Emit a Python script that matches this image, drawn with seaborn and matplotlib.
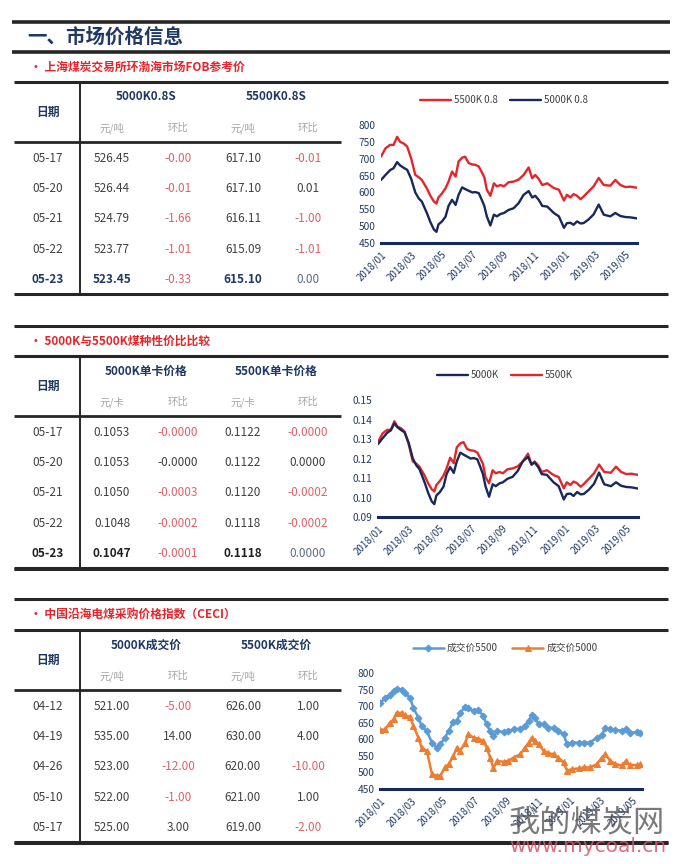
import numpy as np
import pandas as pd
import matplotlib
matplotlib.use("Agg")
import matplotlib.pyplot as plt
import matplotlib.dates as mdates
from matplotlib.lines import Line2D
import seaborn as sns

W, H = 685, 864

# ---------------- data ----------------
# 环渤海 FOB 参考价 (元/吨)
fob_dates = ["2018-01-01", "2018-01-10", "2018-01-19", "2018-01-26", "2018-02-02", "2018-02-08",
             "2018-02-15", "2018-02-22", "2018-03-02", "2018-03-10", "2018-03-17", "2018-03-23",
             "2018-04-02", "2018-04-09", "2018-04-16", "2018-04-21", "2018-04-25", "2018-05-02",
             "2018-05-09", "2018-05-15", "2018-05-22", "2018-05-29", "2018-06-04", "2018-06-11",
             "2018-06-17", "2018-06-24", "2018-07-01", "2018-07-07", "2018-07-14", "2018-07-20",
             "2018-07-25", "2018-07-30", "2018-08-06", "2018-08-13", "2018-08-19", "2018-08-26",
             "2018-09-02", "2018-09-11", "2018-09-21", "2018-10-01", "2018-10-11", "2018-10-21",
             "2018-10-28", "2018-11-03", "2018-11-10", "2018-11-17", "2018-11-27", "2018-12-10",
             "2018-12-20", "2018-12-30", "2019-01-05", "2019-01-12", "2019-01-18", "2019-01-25",
             "2019-02-01", "2019-02-07", "2019-02-17", "2019-02-27", "2019-03-09", "2019-03-19",
             "2019-04-01", "2019-04-11", "2019-04-21", "2019-05-01", "2019-05-11", "2019-05-24"]
fob_5500 = [706, 731, 741, 741, 765, 750, 745, 736, 700, 652, 645, 637, 612, 590, 573, 567, 585,
            597, 612, 632, 662, 647, 692, 703, 706, 687, 683, 682, 677, 660, 645, 608, 590, 627,
            618, 622, 618, 630, 632, 638, 652, 674, 642, 652, 640, 622, 627, 613, 608, 576, 593,
            585, 595, 590, 580, 588, 603, 618, 643, 622, 620, 637, 622, 616, 617, 614]
fob_5000 = [637, 652, 666, 672, 690, 680, 673, 667, 640, 600, 582, 573, 539, 512, 490, 483, 505,
            514, 528, 560, 578, 563, 593, 615, 610, 605, 600, 601, 598, 578, 560, 529, 502, 534,
            529, 536, 539, 548, 553, 568, 593, 604, 585, 590, 578, 560, 558, 539, 529, 495, 509,
            510, 504, 514, 508, 509, 520, 535, 564, 534, 529, 539, 530, 527, 526, 523]

# 单卡价格 (元/卡)
unit_5000 = [.1274, .1304, .1332, .1344, .1380, .1360, .1346, .1334, .1280, .1200, .1164, .1146,
             .1078, .1024, .0980, .0966, .1010, .1028, .1056, .1120, .1156, .1126, .1186, .1230,
             .1220, .1210, .1200, .1202, .1196, .1156, .1120, .1058, .1004, .1068, .1058, .1072,
             .1078, .1096, .1106, .1136, .1186, .1208, .1170, .1180, .1156, .1120, .1116, .1078,
             .1058, .0990, .1018, .1020, .1008, .1028, .1016, .1018, .1040, .1070, .1128, .1068,
             .1058, .1078, .1060, .1054, .1052, .1046]
unit_5500 = [.1284, .1329, .1347, .1347, .1391, .1364, .1355, .1338, .1273, .1185, .1173, .1158,
             .1113, .1073, .1042, .1031, .1064, .1085, .1113, .1149, .1204, .1176, .1258, .1278,
             .1284, .1249, .1242, .1240, .1231, .1200, .1173, .1105, .1073, .1140, .1124, .1131,
             .1124, .1145, .1149, .1160, .1185, .1225, .1167, .1185, .1164, .1131, .1140, .1115,
             .1105, .1047, .1078, .1064, .1082, .1073, .1055, .1069, .1096, .1124, .1169, .1131,
             .1127, .1158, .1131, .1120, .1122, .1116]

# CECI 成交价 (元/吨)
ceci_dates = ["2018-01-01", "2018-01-11", "2018-01-20", "2018-01-27", "2018-02-02", "2018-02-12",
              "2018-02-18", "2018-02-28", "2018-03-06", "2018-03-16", "2018-03-22", "2018-04-01",
              "2018-04-11", "2018-04-20", "2018-04-27", "2018-05-06", "2018-05-13", "2018-05-22",
              "2018-05-29", "2018-06-04", "2018-06-14", "2018-06-20", "2018-06-30", "2018-07-09",
              "2018-07-19", "2018-07-25", "2018-08-01", "2018-08-07", "2018-08-14", "2018-08-27",
              "2018-09-05", "2018-09-15", "2018-09-28", "2018-10-07", "2018-10-14", "2018-10-20",
              "2018-10-27", "2018-11-02", "2018-11-12", "2018-11-21", "2018-12-01", "2018-12-10",
              "2018-12-20", "2018-12-27", "2019-01-05", "2019-01-18", "2019-01-28", "2019-02-09",
              "2019-02-22", "2019-03-04", "2019-03-10", "2019-03-20", "2019-03-30", "2019-04-12",
              "2019-04-19", "2019-04-26", "2019-05-10", "2019-05-17"]
ceci_5500 = [708, 725, 735, 747, 752, 750, 740, 725, 695, 665, 640, 625, 590, 575, 585, 605, 625,
             652, 655, 680, 698, 693, 685, 688, 670, 645, 625, 610, 625, 622, 625, 630, 632, 640,
             655, 672, 665, 645, 645, 635, 635, 625, 615, 585, 590, 590, 590, 590, 605, 612, 635,
             630, 628, 626, 630, 620, 621, 619]
ceci_5000 = [628, 630, 650, 660, 680, 680, 672, 668, 640, 605, 575, 565, 495, 490, 490, 515, 525,
             550, 575, 565, 590, 615, 605, 602, 595, 575, 545, 512, 535, 532, 535, 545, 555, 575,
             590, 605, 595, 585, 565, 558, 555, 545, 530, 505, 510, 512, 515, 515, 525, 545, 555,
             535, 525, 521, 535, 523, 522, 525]

# tables
t1_dates = ["05-17", "05-20", "05-21", "05-22", "05-23"]
t1_p5000 = ["526.45", "526.44", "524.79", "523.77", "523.45"]
t1_c5000 = ["-0.00", "-0.01", "-1.66", "-1.01", "-0.33"]
t1_p5500 = ["617.10", "617.10", "616.11", "615.09", "615.10"]
t1_c5500 = ["-0.01", "0.01", "-1.00", "-1.01", "0.00"]

t2_dates = ["05-17", "05-20", "05-21", "05-22", "05-23"]
t2_p5000 = ["0.1053", "0.1053", "0.1050", "0.1048", "0.1047"]
t2_c5000 = ["-0.0000", "-0.0000", "-0.0003", "-0.0002", "-0.0001"]
t2_p5500 = ["0.1122", "0.1122", "0.1120", "0.1118", "0.1118"]
t2_c5500 = ["-0.0000", "0.0000", "-0.0002", "-0.0002", "0.0000"]

t3_dates = ["04-12", "04-19", "04-26", "05-10", "05-17"]
t3_p5000 = ["521.00", "535.00", "523.00", "522.00", "525.00"]
t3_c5000 = ["-5.00", "14.00", "-12.00", "-1.00", "3.00"]
t3_p5500 = ["626.00", "630.00", "620.00", "621.00", "619.00"]
t3_c5500 = ["1.00", "4.00", "-10.00", "1.00", "-2.00"]

# ---------------- style ----------------
sns.set_theme(style="white")
plt.rcParams["font.family"] = ["Noto Sans CJK SC", "DejaVu Sans"]
plt.rcParams["axes.unicode_minus"] = False

NAVY = "#1F3864"
DARK = "#404040"
GRAY = "#A6A6A6"
RED_TXT = "#E0606A"
TITLE_RED = "#E3262B"
LINE_RED = "#E3262B"
LINE_NAVY = "#17295A"
BLUE = "#5B9BD5"
ORANGE = "#ED7D31"
RULE = "#262626"

fig = plt.figure(figsize=(W / 100, H / 100), dpi=100)
fig.patch.set_facecolor("white")


def txt(x, y, s, **kw):
    kw.setdefault("ha", "center")
    kw.setdefault("va", "center")
    fig.text(x / W, 1 - y / H, s, **kw)


def hline(y, x0=14, x1=668, lw=2.2, color=RULE):
    fig.add_artist(Line2D([x0 / W, x1 / W], [1 - y / H] * 2, transform=fig.transFigure,
                          lw=lw, color=color, solid_capstyle="butt"))


def vline(x, y0, y1, lw=1.4, color=RULE):
    fig.add_artist(Line2D([x / W] * 2, [1 - y0 / H, 1 - y1 / H], transform=fig.transFigure,
                          lw=lw, color=color))


# main title
hline(22, 12, 670, lw=2.6)
txt(27, 37, "一、市场价格信息", ha="left", fontsize=14, fontweight="bold", color=NAVY)
hline(52, 12, 670, lw=2.6)


def section(sub_y, subtitle, top, heads, units, dates, p1, c1, p2, c2, last_style, overrides=None):
    txt(30, sub_y, "• " + subtitle, ha="left", fontsize=8.5, fontweight="bold", color=TITLE_RED)
    hline(top)
    txt(48, top + 30, "日期", fontsize=8.5, fontweight="bold", color=NAVY)
    txt(146, top + 15, heads[0], fontsize=8.5, fontweight="bold", color=NAVY)
    txt(276, top + 15, heads[1], fontsize=8.5, fontweight="bold", color=NAVY)
    for x, u in zip([112, 178, 243, 308], units):
        txt(x, top + 46, u, fontsize=7.5, color=GRAY)
    hline(top + 60, 14, 341, lw=2.0)
    vline(80, top, top + 212)
    for i in range(len(dates)):
        y = top + 76 + i * 30.4
        last = i == len(dates) - 1
        wt = "bold" if (last and last_style) else "normal"
        col = last_style if (last and last_style) else DARK
        txt(48, y, dates[i], fontsize=8.5, color=col, fontweight=wt)
        txt(112, y, p1[i], fontsize=8.5, color=col, fontweight=wt)
        txt(243, y, p2[i], fontsize=8.5, color=col, fontweight=wt)
        for x, c, k in [(178, c1[i], 0), (308, c2[i], 1)]:
            cc = RED_TXT if c.startswith("-") else DARK
            if last and last_style and not c.startswith("-"):
                cc = "#5B6B8C"
            if overrides and (i, k) in overrides:
                cc = overrides[(i, k)]
            txt(x, y, c, fontsize=8.5, color=cc)
    hline(top + 212)


section(67, "上海煤炭交易所环渤海市场FOB参考价", 82, ["5000K0.8S", "5500K0.8S"],
        ["元/吨", "环比", "元/吨", "环比"], t1_dates, t1_p5000, t1_c5000, t1_p5500, t1_c5500, NAVY)
hline(326)
section(341, "5000K与5500K煤种性价比比较", 356, ["5000K单卡价格", "5500K单卡价格"],
        ["元/卡", "环比", "元/卡", "环比"], t2_dates, t2_p5000, t2_c5000, t2_p5500, t2_c5500,
        "#202020", overrides={(1, 0): DARK})
hline(599)
section(614, "中国沿海电煤采购价格指数（CECI）", 630, ["5000K成交价", "5500K成交价"],
        ["元/吨", "环比", "元/吨", "环比"], t3_dates, t3_p5000, t3_c5000, t3_p5500, t3_c5500, None)


# ---------------- charts ----------------
def make_ax(x0, x1, ytop, ybot):
    ax = fig.add_axes([x0 / W, 1 - ybot / H, (x1 - x0) / W, (ybot - ytop) / H])
    ax.set_facecolor("none")
    for s in ["top", "right", "left"]:
        ax.spines[s].set_visible(False)
    ax.spines["bottom"].set_color(LINE_NAVY)
    ax.spines["bottom"].set_linewidth(2.2)
    ax.tick_params(axis="y", length=0, labelsize=7.3, colors=NAVY, pad=4)
    ax.tick_params(axis="x", length=5, width=1.2, color=LINE_NAVY, labelsize=7,
                   labelcolor=NAVY, direction="inout", pad=2)
    ax.xaxis.set_major_locator(mdates.MonthLocator(bymonth=[1, 3, 5, 7, 9, 11]))
    ax.xaxis.set_major_formatter(mdates.DateFormatter("%Y/%m"))
    ax.grid(False)
    return ax


def fix_ticks(ax):
    for lab in ax.get_xticklabels():
        lab.set_rotation(45)
        lab.set_ha("right")
        lab.set_rotation_mode("anchor")
    ax.set_xlabel("")
    ax.set_ylabel("")


# chart 1
df1 = pd.DataFrame({"date": pd.to_datetime(fob_dates), "5500K 0.8": fob_5500, "5000K 0.8": fob_5000})
ax1 = make_ax(381, 637, 125, 243)
sns.lineplot(data=df1, x="date", y="5500K 0.8", ax=ax1, color=LINE_RED, lw=1.7, label="5500K 0.8")
sns.lineplot(data=df1, x="date", y="5000K 0.8", ax=ax1, color=LINE_NAVY, lw=1.7, label="5000K 0.8")
ax1.set_ylim(450, 800)
ax1.set_yticks(np.arange(450, 801, 50))
ax1.set_xlim(df1["date"].iloc[0], df1["date"].iloc[-1])
fix_ticks(ax1)
ax1.legend(loc="center", bbox_to_anchor=(504 / W, 1 - 100 / H), bbox_transform=fig.transFigure,
           ncol=2, frameon=False, fontsize=7, handlelength=3.2, columnspacing=1.2,
           labelcolor=DARK, handletextpad=0.3)

# chart 2
df2 = pd.DataFrame({"date": pd.to_datetime(fob_dates), "5000K": unit_5000, "5500K": unit_5500})
ax2 = make_ax(378, 638, 400, 517)
sns.lineplot(data=df2, x="date", y="5500K", ax=ax2, color=LINE_RED, lw=1.7, label="5500K")
sns.lineplot(data=df2, x="date", y="5000K", ax=ax2, color=LINE_NAVY, lw=1.7, label="5000K")
ax2.set_ylim(0.09, 0.15)
ax2.set_yticks(np.arange(0.09, 0.1501, 0.01))
ax2.yaxis.set_major_formatter(matplotlib.ticker.FormatStrFormatter("%.2f"))
ax2.set_xlim(df2["date"].iloc[0], df2["date"].iloc[-1])
fix_ticks(ax2)
h, l = ax2.get_legend_handles_labels()
ax2.legend(h[::-1], l[::-1], loc="center", bbox_to_anchor=(505 / W, 1 - 375 / H),
           bbox_transform=fig.transFigure, ncol=2, frameon=False, fontsize=7, handlelength=3.2,
           columnspacing=1.2, labelcolor=DARK, handletextpad=0.3)

# chart 3
df3 = pd.DataFrame({"date": pd.to_datetime(ceci_dates), "成交价5500": ceci_5500, "成交价5000": ceci_5000})
ax3 = make_ax(380, 642, 673, 789)
sns.lineplot(data=df3, x="date", y="成交价5500", ax=ax3, color=BLUE, lw=1.8, marker="D",
             markersize=3.5, markeredgecolor=BLUE, label="成交价5500")
sns.lineplot(data=df3, x="date", y="成交价5000", ax=ax3, color=ORANGE, lw=1.8, marker="^",
             markersize=4.5, markeredgecolor=ORANGE, label="成交价5000")
ax3.set_ylim(450, 800)
ax3.set_yticks(np.arange(450, 801, 50))
ax3.set_xlim(df3["date"].iloc[0], pd.Timestamp("2019-05-20"))
fix_ticks(ax3)
ax3.legend(loc="center", bbox_to_anchor=(505 / W, 1 - 648 / H), bbox_transform=fig.transFigure,
           ncol=2, frameon=False, fontsize=7, handlelength=3.2, columnspacing=1.5,
           labelcolor=DARK, handletextpad=0.3)

hline(569)
hline(843)

# watermark
txt(587, 822, "我的煤炭网", fontsize=22.5, color="#4D4D4D", alpha=0.75)
txt(588, 847, "www.mycoal.cn", fontsize=14.5, color="#D9546A", alpha=0.85,
    family=["DejaVu Sans"])

fig.savefig("out.png", dpi=100, facecolor="white")
